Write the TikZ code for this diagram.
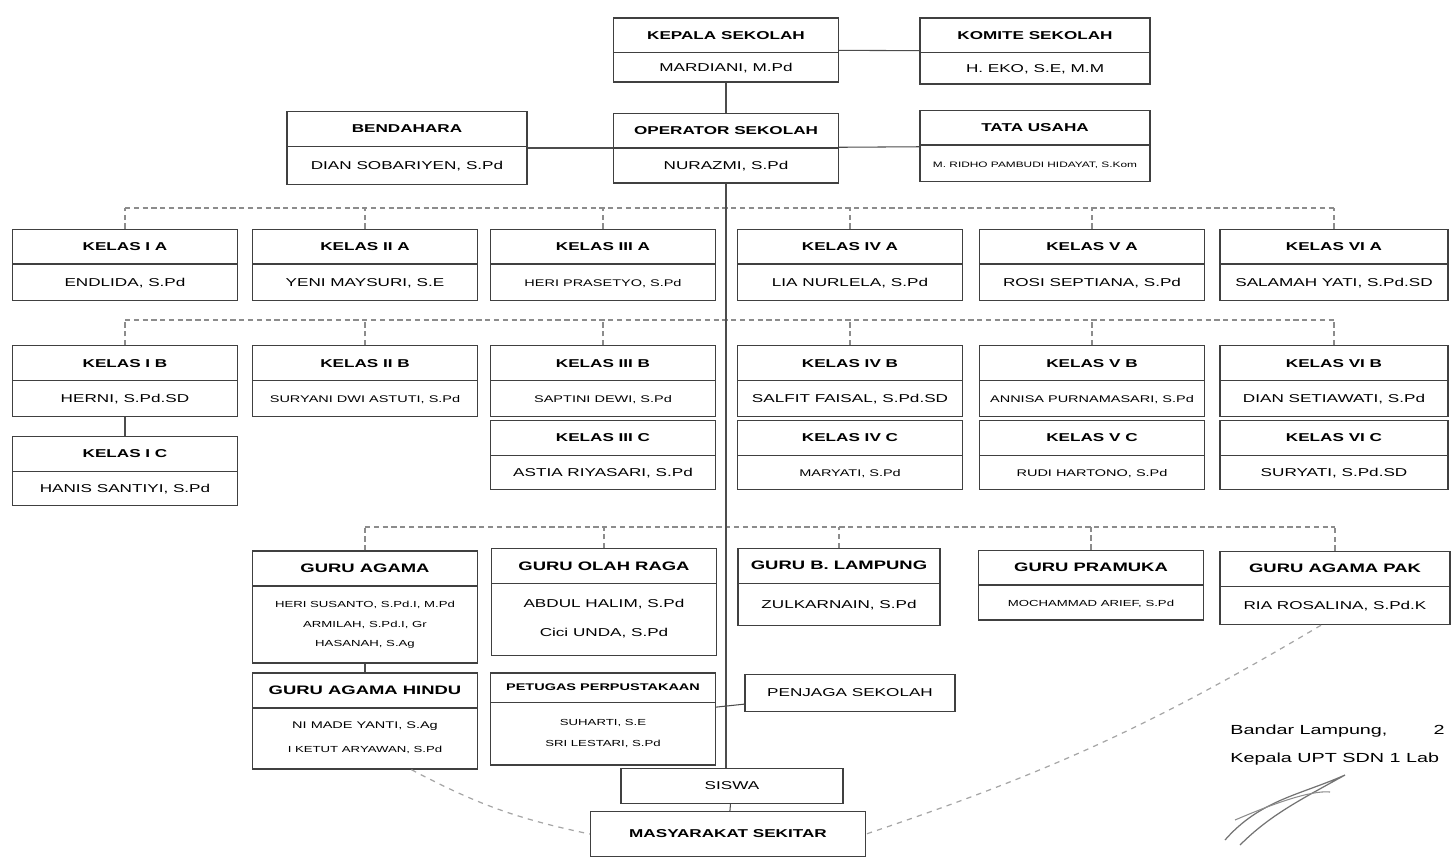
\documentclass[tikz,border=0pt]{standalone}
\usepackage{fontspec}
\setmainfont{Liberation Sans}[FakeStretch=1.5]
\usetikzlibrary{shapes.multipart}

% judul dan isi kotak (tinggi bagian diatur dengan strut)
\newcommand{\ttl}[1]{\rule[-3.3pt]{0pt}{11pt}\textbf{#1}}
\newcommand{\bdy}[2]{\rule[-\dimexpr#1/2-2.3pt\relax]{0pt}{#1}#2}
\newcommand{\sm}{\fontsize{5.5}{6.5}\selectfont}
\newcommand{\xs}{\fontsize{5}{6}\selectfont}

\tikzset{
  unit/.style={draw=black!75, line width=0.8pt, rectangle split, rectangle split parts=2,
    minimum width=4.5cm, inner ysep=4pt, inner xsep=2pt, align=center,
    font=\fontsize{6.5}{8.5}\selectfont},
  guru/.style={unit, font=\fontsize{7}{8.5}\selectfont},
  single/.style={draw=black!75, line width=0.8pt, minimum width=4.5cm, minimum height=0.74cm,
    font=\fontsize{6.5}{8.5}\selectfont},
  link/.style={draw=black!70, line width=0.6pt},
  bus/.style={draw=black!45, line width=0.9pt, densely dashed},
  faint/.style={draw=black!35, dashed, line width=0.7pt}
}

\begin{document}
\begin{tikzpicture}[x=0.02cm, y=-0.02cm]
    \useasboundingbox (0,0) rectangle (1453,860);

    % pimpinan
    \node[unit] (kepsek) at (726,50) {\ttl{KEPALA SEKOLAH}\nodepart{two}\bdy{8pt}{MARDIANI, M.Pd}};
    \node[unit, minimum width=4.6cm] (komite) at (1035,51) {\ttl{KOMITE SEKOLAH}\nodepart{two}\bdy{9pt}{H. EKO, S.E, M.M}};
    \node[unit, minimum width=4.8cm] (bendahara) at (407,148) {\ttl{BENDAHARA}\nodepart{two}\bdy{13pt}{DIAN SOBARIYEN, S.Pd}};
    \node[unit] (operator) at (726,148) {\ttl{OPERATOR SEKOLAH}\nodepart{two}\bdy{11pt}{NURAZMI, S.Pd}};
    \node[unit, minimum width=4.6cm] (tu) at (1035,146) {\ttl{TATA USAHA}\nodepart{two}\bdy{12pt}{\fontsize{4.5}{5.5}\selectfont M. RIDHO PAMBUDI HIDAYAT, S.Kom}};

    \draw[link] (kepsek) -- (komite);
    \draw[link] (kepsek) -- (operator);
    \draw[link] (bendahara) -- (operator);
    \draw[link] (operator) -- (tu);

    % kelas A
    \node[unit] (k1a) at (125,265) {\ttl{KELAS I A}\nodepart{two}\bdy{12pt}{ENDLIDA, S.Pd}};
    \node[unit] (k2a) at (365,265) {\ttl{KELAS II A}\nodepart{two}\bdy{12pt}{YENI MAYSURI, S.E}};
    \node[unit] (k3a) at (603,265) {\ttl{KELAS III A}\nodepart{two}\bdy{12pt}{\sm HERI PRASETYO, S.Pd}};
    \node[unit] (k4a) at (850,265) {\ttl{KELAS IV A}\nodepart{two}\bdy{12pt}{LIA NURLELA, S.Pd}};
    \node[unit] (k5a) at (1092,265) {\ttl{KELAS V A}\nodepart{two}\bdy{12pt}{ROSI SEPTIANA, S.Pd}};
    \node[unit, minimum width=4.56cm] (k6a) at (1334,265) {\ttl{KELAS VI A}\nodepart{two}\bdy{12pt}{SALAMAH YATI, S.Pd.SD}};

    \coordinate (busa) at (0,208);
    \draw[bus] (k1a.north |- busa) -- (k6a.north |- busa);
    \foreach \n in {k1a,k2a,k3a,k4a,k5a,k6a}
      \draw[bus] (\n.north) -- (\n.north |- busa);

    % kelas B
    \node[unit] (k1b) at (125,381) {\ttl{KELAS I B}\nodepart{two}\bdy{11.5pt}{HERNI, S.Pd.SD}};
    \node[unit] (k2b) at (365,381) {\ttl{KELAS II B}\nodepart{two}\bdy{11.5pt}{\sm SURYANI DWI ASTUTI, S.Pd}};
    \node[unit] (k3b) at (603,381) {\ttl{KELAS III B}\nodepart{two}\bdy{11.5pt}{\sm SAPTINI DEWI, S.Pd}};
    \node[unit] (k4b) at (850,381) {\ttl{KELAS IV B}\nodepart{two}\bdy{11.5pt}{SALFIT FAISAL, S.Pd.SD}};
    \node[unit] (k5b) at (1092,381) {\ttl{KELAS V B}\nodepart{two}\bdy{11.5pt}{\sm ANNISA PURNAMASARI, S.Pd}};
    \node[unit, minimum width=4.56cm] (k6b) at (1334,381) {\ttl{KELAS VI B}\nodepart{two}\bdy{11.5pt}{DIAN SETIAWATI, S.Pd}};

    \coordinate (busb) at (0,320);
    \draw[bus] (k1b.north |- busb) -- (k6b.north |- busb);
    \foreach \n in {k1b,k2b,k3b,k4b,k5b,k6b}
      \draw[bus] (\n.north) -- (\n.north |- busb);

    % kelas C
    \node[unit] (k1c) at (125,471) {\ttl{KELAS I C}\nodepart{two}\bdy{10.5pt}{HANIS SANTIYI, S.Pd}};
    \node[unit] (k3c) at (603,455) {\ttl{KELAS III C}\nodepart{two}\bdy{10.5pt}{ASTIA RIYASARI, S.Pd}};
    \node[unit] (k4c) at (850,455) {\ttl{KELAS IV C}\nodepart{two}\bdy{10.5pt}{\sm MARYATI, S.Pd}};
    \node[unit] (k5c) at (1092,455) {\ttl{KELAS V C}\nodepart{two}\bdy{10.5pt}{\sm RUDI HARTONO, S.Pd}};
    \node[unit, minimum width=4.56cm] (k6c) at (1334,455) {\ttl{KELAS VI C}\nodepart{two}\bdy{10.5pt}{SURYATI, S.Pd.SD}};

    \draw[link] (k1b) -- (k1c);

    % guru bidang
    \node[guru] (agama) at (365,607) {\ttl{GURU AGAMA}\nodepart{two}\rule{0pt}{8pt}\xs HERI SUSANTO, S.Pd.I, M.Pd\\[2.5pt]
      \xs ARMILAH, S.Pd.I, Gr\\[2.5pt] \xs HASANAH, S.Ag\rule[-5pt]{0pt}{5pt}};
    \node[guru] (olahraga) at (604,602) {\ttl{GURU OLAH RAGA}\nodepart{two}\fontsize{6.5}{8.5}\selectfont\rule{0pt}{9pt}ABDUL HALIM, S.Pd\\[8.5pt]
      \fontsize{6.5}{8.5}\selectfont Cici UNDA, S.Pd\rule[-6pt]{0pt}{6pt}};
    \node[guru, minimum width=4.04cm] (lampung) at (839,587) {\ttl{GURU B. LAMPUNG}\nodepart{two}\bdy{15pt}{\fontsize{6.5}{8.5}\selectfont ZULKARNAIN, S.Pd}};
    \node[guru] (pramuka) at (1091,585) {\ttl{GURU PRAMUKA}\nodepart{two}\bdy{11pt}{\xs MOCHAMMAD ARIEF, S.Pd}};
    \node[guru, minimum width=4.6cm] (pak) at (1335,588) {\ttl{GURU AGAMA PAK}\nodepart{two}\bdy{13pt}{\fontsize{6.5}{8.5}\selectfont RIA ROSALINA, S.Pd.K}};

    \coordinate (busg) at (0,527);
    \draw[bus] (agama.north |- busg) -- (pak.north |- busg);
    \foreach \n in {agama,olahraga,lampung,pramuka,pak}
      \draw[bus] (\n.north) -- (\n.north |- busg);

    % tenaga lain
    \node[guru] (hindu) at (365,721) {\ttl{GURU AGAMA HINDU}\nodepart{two}\rule{0pt}{7.5pt}\sm NI MADE YANTI, S.Ag\\[5pt]
      \xs I KETUT ARYAWAN, S.Pd\rule[-5pt]{0pt}{5pt}};
    \node[unit] (perpus) at (603,719) {\rule[-2.6pt]{0pt}{8pt}\textbf{\fontsize{5.5}{7}\selectfont PETUGAS PERPUSTAKAAN}\nodepart{two}\rule{0pt}{9pt}\xs SUHARTI, S.E\\[3pt]
      \xs SRI LESTARI, S.Pd\rule[-6.4pt]{0pt}{6.4pt}};
    \node[single, minimum width=4.2cm] (penjaga) at (850,693) {PENJAGA SEKOLAH};
    \node[single, minimum width=4.44cm, minimum height=0.7cm] (siswa) at (732,786) {SISWA};
    \node[single, minimum width=5.5cm, minimum height=0.9cm, font=\fontsize{6.5}{8.5}\selectfont\bfseries] (masyarakat) at (728,834) {MASYARAKAT SEKITAR};

    \draw[link] (agama) -- (hindu);
    \draw[link] (perpus) -- (penjaga);
    \draw[link] (operator.south) -- (operator.south |- siswa.north);
    \draw[link] (siswa) -- (masyarakat);
    \draw[faint] ([xshift=-38pt]hindu.south east) to[bend right=8] (masyarakat.west);
    \draw[faint] ([xshift=-8pt]pak.south) to[bend left=6] (masyarakat.east);

    % pengesahan
    \node[anchor=base west, font=\fontsize{7.5}{9}\selectfont, inner sep=0pt] (tempat) at (1230,734) {Bandar Lampung,\hspace{3.5em}2};
    \node[anchor=base west, font=\fontsize{7.5}{9}\selectfont, inner sep=0pt] (jabatan) at ([yshift=-16pt]tempat.base west) {Kepala UPT SDN 1 Lab};
    \draw[black!55, line width=0.7pt] (1225,840) .. controls (1260,800) and (1300,795) .. (1345,775)
      .. controls (1300,800) and (1270,815) .. (1240,845);
    \draw[black!45, line width=0.6pt] (1235,820) .. controls (1270,805) and (1310,790) .. (1330,792);
\end{tikzpicture}
\end{document}
